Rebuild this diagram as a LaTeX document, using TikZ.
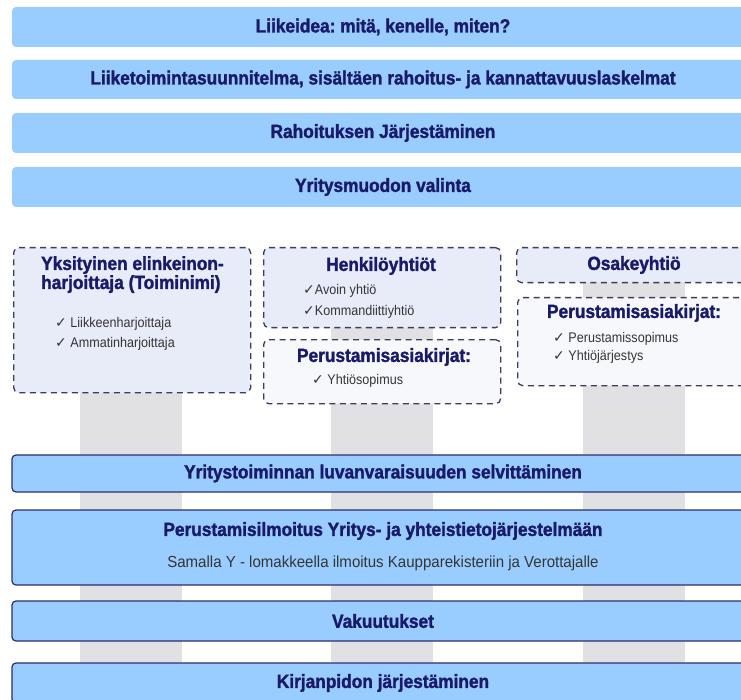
\documentclass[tikz,border=0pt]{standalone}
\usepackage{fontspec}
\setmainfont{Liberation Sans}
\newfontfamily\ttlfont[FakeStretch=0.91,FakeBold=1.6]{Liberation Sans Bold}
\newfontfamily\itmfont[FakeStretch=0.9]{Liberation Sans}
\newfontfamily\subfont[FakeStretch=0.94]{Liberation Sans}
\newfontfamily\chkfont{DejaVu Sans}
\frenchspacing
\definecolor{boxblue}{HTML}{99CCFF}
\definecolor{navytxt}{HTML}{1A1A6A}
\definecolor{navyline}{HTML}{2E2E70}
\definecolor{lav}{HTML}{E8EBF8}
\definecolor{pale}{HTML}{F7F8FC}
\definecolor{dashcol}{HTML}{3C3C5E}
\definecolor{barcol}{HTML}{E1E1E3}
\definecolor{itemtxt}{HTML}{353535}
\newcommand{\ck}{{\chkfont\fontsize{14}{16}\selectfont ✓}}
\tikzset{
  topbox/.style={fill=boxblue, rounded corners=4pt, minimum width=742pt, inner sep=0pt,
    text=navytxt, font=\ttlfont\fontsize{19}{21}\selectfont},
  botbox/.style={topbox, draw=navyline, line width=1.2pt},
  dashbox/.style={draw=dashcol, dash pattern=on 6pt off 4.5pt, line width=1.3pt,
    rounded corners=5pt, fill=lav, minimum width=237pt, inner sep=0pt, anchor=north west},
  palebox/.style={dashbox, fill=pale},
  midtitle/.style={text=navytxt, font=\ttlfont\fontsize{19}{19}\selectfont, inner sep=0pt},
  itemtext/.style={text=itemtxt, font=\itmfont\fontsize{14}{16}\selectfont, inner sep=0pt, anchor=west},
  subtext/.style={text=itemtxt, font=\subfont\fontsize{16}{18}\selectfont, inner sep=0pt},
  greybar/.style={draw=barcol, line width=102pt},
}
\begin{document}
\begin{tikzpicture}[x=1pt,y=-1pt]
\clip (0,0) rectangle (741,700);
\fill[white] (0,0) rectangle (741,700);
% grey connector bars
\coordinate (b1t) at (131,252); \coordinate (b1b) at (131,700);
\coordinate (b2t) at (382,252); \coordinate (b2b) at (382,700);
\coordinate (b3t) at (634,252); \coordinate (b3b) at (634,700);
\draw[greybar] (b1t) -- (b1b);
\draw[greybar] (b2t) -- (b2b);
\draw[greybar] (b3t) -- (b3b);
% top boxes
\node[topbox, minimum height=40pt] (t1) at (383,27) {Liikeidea: mitä, kenelle, miten?};
\node[topbox, minimum height=39pt] (t2) at (383,79.5) {Liiketoimintasuunnitelma, sisältäen rahoitus- ja kannattavuuslaskelmat};
\node[topbox, minimum height=40pt] (t3) at (383,133) {Rahoituksen Järjestäminen};
\node[topbox, minimum height=40pt] (t4) at (383,187) {Yritysmuodon valinta};
% middle boxes
\node[dashbox, minimum height=145pt] (yks) at (13,247) {};
\node[midtitle, anchor=north west, align=left] (yksT) at (41,256) {Yksityinen elinkeinon-\\harjoittaja (Toiminimi)};
\node[itemtext] (yks1) at (55,324) {\ck\ Liikkeenharjoittaja};
\node[itemtext] (yks2) at (55,344) {\ck\ Ammatinharjoittaja};

\node[dashbox, minimum height=80pt] (hen) at (263,247) {};
\node[midtitle] (henT) at (381,266) {Henkilöyhtiöt};
\node[itemtext] (hen1) at (303,291) {\ck Avoin yhtiö};
\node[itemtext] (hen2) at (303,312) {\ck Kommandiittiyhtiö};

\node[palebox, minimum height=64pt] (per1) at (263,339) {};
\node[midtitle] (per1T) at (384,357) {Perustamisasiakirjat:};
\node[itemtext] (per1a) at (312,381) {\ck\ Yhtiösopimus};

\node[dashbox, minimum height=35pt] (osa) at (516,247) {};
\node[midtitle] (osaT) at (634,265) {Osakeyhtiö};

\node[palebox, minimum height=88pt] (per2) at (517,297) {};
\node[midtitle] (per2T) at (634,313) {Perustamisasiakirjat:};
\node[itemtext] (per2a) at (553,339) {\ck\ Perustamissopimus};
\node[itemtext] (per2b) at (553,357) {\ck\ Yhtiöjärjestys};
% bottom boxes
\node[botbox, minimum height=37pt] (b1) at (383,473.5) {Yritystoiminnan luvanvaraisuuden selvittäminen};
\node[botbox, minimum height=75pt] (b2) at (383,547.5) {};
\node[midtitle] (b2T) at (383,531) {Perustamisilmoitus Yritys- ja yhteistietojärjestelmään};
\node[subtext] (b2S) at (383,563) {Samalla Y - lomakkeella ilmoitus Kaupparekisteriin ja Verottajalle};
\node[botbox, minimum height=40pt] (b3) at (383,621) {Vakuutukset};
\node[botbox, minimum height=40pt] (b4) at (383,683) {Kirjanpidon järjestäminen};
\end{tikzpicture}
\end{document}
